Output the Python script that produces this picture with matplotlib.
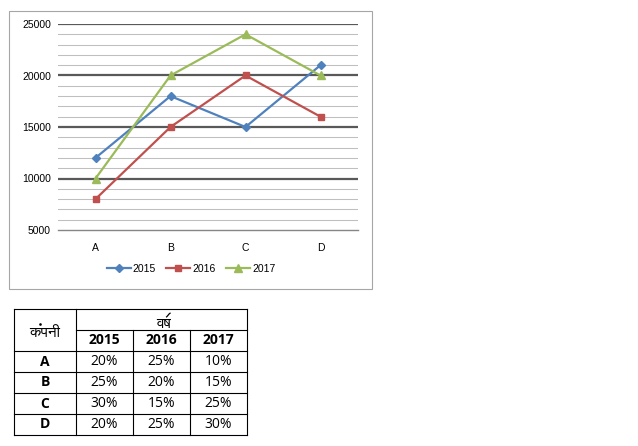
import matplotlib
matplotlib.use("Agg")
import matplotlib.pyplot as plt
from matplotlib.patches import Rectangle, PathPatch
from matplotlib.path import Path

companies = ["A", "B", "C", "D"]
years = ["2015", "2016", "2017"]
values = {
	"2015": [12000, 18000, 15000, 21000],
	"2016": [8000, 15000, 20000, 16000],
	"2017": [10000, 20000, 24000, 20000],
}
pct_2015 = ["20%", "25%", "30%", "20%"]
pct_2016 = ["25%", "20%", "15%", "25%"]
pct_2017 = ["10%", "15%", "25%", "30%"]
head_company = "कंपनी"
head_year = "वर्ष"

colors = {"2015": "#4F81BD", "2016": "#C0504D", "2017": "#9BBB59"}
markers = {"2015": ("D", 4.5), "2016": ("s", 5), "2017": ("^", 6)}

table_fam = ["Open Sans", "DejaVu Sans"]
deva_fam = ["FreeSans", "FreeSerif", "Open Sans"]

W, H = 638, 446
fig = plt.figure(figsize=(W / 100, H / 100), dpi=100)

# chart frame
fig.patches.append(Rectangle((9 / W, 1 - 289 / H), 363 / W, 278 / H,
	transform=fig.transFigure, fill=False, ec="#A6A6A6", lw=0.8))

ax = fig.add_axes([58 / W, 1 - 230 / H, 300 / W, 206 / H])
ax.set_xlim(-0.5, 3.5)
ax.set_ylim(5000, 25000)
for s in ax.spines.values():
	s.set_visible(False)
for y in range(6000, 25000, 1000):
	if y % 5000:
		ax.axhline(y, color="#BFBFBF", lw=0.75, zorder=1)
for y in range(10000, 25001, 5000):
	ax.axhline(y, color="#595959", lw=1.6, zorder=1)
ax.axhline(5000, color="#868686", lw=1, zorder=1, clip_on=False)

x = range(len(companies))
for yr in years:
	m, ms = markers[yr]
	ax.plot(x, values[yr], color=colors[yr], lw=1.6, marker=m, ms=ms,
		label=yr, zorder=3, clip_on=False)

ax.set_xticks(list(x), companies)
ax.set_yticks(range(5000, 25001, 5000))
ax.tick_params(length=0, labelsize=7.5, labelcolor="#000000", pad=5)
ax.tick_params(axis="x", pad=9)
for t in ax.get_xticklabels() + ax.get_yticklabels():
	t.set_fontfamily("Liberation Sans")

leg = fig.legend(loc="center", bbox_to_anchor=(191 / W, 1 - 269 / H), ncol=3,
	frameon=False, prop={"family": "Liberation Sans", "size": 7.5},
	handlelength=2.3, handletextpad=0.2, columnspacing=1.0)

# table
tx = fig.add_axes([0, 0, 1, 1])
tx.set_xlim(0, W)
tx.set_ylim(H, 0)
tx.axis("off")
cols = [14, 76, 133, 190, 247]
rows = [309, 330, 351, 372, 393, 414, 435]
lk = dict(color="black", lw=0.8)
tx.plot([cols[0], cols[-1]], [rows[0], rows[0]], **lk)
tx.plot([cols[1], cols[-1]], [rows[1], rows[1]], **lk)
for r in rows[2:]:
	tx.plot([cols[0], cols[-1]], [r, r], **lk)
for c in (cols[0], cols[1], cols[-1]):
	tx.plot([c, c], [rows[0], rows[-1]], **lk)
for c in cols[2:4]:
	tx.plot([c, c], [rows[1], rows[-1]], **lk)

cx = [(cols[i] + cols[i + 1]) / 2 for i in range(4)]
cy = [(rows[i] + rows[i + 1]) / 2 for i in range(6)]
tk = dict(ha="center", va="center", fontsize=10)
for j, yr in enumerate(years):
	tx.text(cx[j + 1], cy[1], yr, family=table_fam, weight="bold", **tk)
for i, c in enumerate(companies):
	tx.text(cx[0], cy[i + 2], c, family=table_fam, weight="bold", **tk)
	for j, col in enumerate([pct_2015, pct_2016, pct_2017]):
		tx.text(cx[j + 1], cy[i + 2], col[i], family=table_fam, **tk)

# Devanagari: matplotlib は shaping しないので、anusvara と reph は手で置く
renderer = fig.canvas.get_renderer()
inv = tx.transData.inverted()
DSIZE = 11


def extent(s, xx, yy):
	t = tx.text(xx, yy, s, family=deva_fam, ha="left", va="baseline", fontsize=DSIZE)
	bb = t.get_window_extent(renderer)
	t.remove()
	(x0, y1), (x1, y0) = inv.transform([[bb.x0, bb.y0], [bb.x1, bb.y1]])
	return x0, x1, y0, y1


# कंपनी -> "कपनी" + dot
base1 = head_company.replace("ं", "")
bx0, bx1, _, _ = extent(base1, 0, 0)
x_start = cx[0] - (bx1 - bx0) / 2
base_y = rows[1] + 7
tx.text(x_start, base_y, base1, family=deva_fam, ha="left", va="baseline", fontsize=DSIZE)
k0, k1, top, _ = extent(head_company[0], x_start, base_y)
tx.plot([k1 - 1.5], [top - 2.0], "o", color="black", ms=1.9, mew=0)

# वर्ष -> "वष" + reph
base2 = head_year.replace("र्", "")
bx0, bx1, _, _ = extent(base2, 0, 0)
x_start2 = (cols[1] + cols[-1]) / 2 - (bx1 - bx0) / 2 + 2
base_y2 = rows[0] + 19
tx.text(x_start2, base_y2, base2, family=deva_fam, ha="left", va="baseline", fontsize=DSIZE)
s0, s1, top2, _ = extent(base2, x_start2, base_y2)
rx = s1 - 2.5
reph = Path([(rx - 2.3, top2 + 0.3), (rx - 0.5, top2 - 1.2), (rx + 0.5, top2 - 3.6),
	(rx + 2.2, top2 - 4.0)], [Path.MOVETO, Path.CURVE4, Path.CURVE4, Path.CURVE4])
tx.add_patch(PathPatch(reph, fill=False, ec="black", lw=0.9))

fig.savefig("out.png", dpi=100)
